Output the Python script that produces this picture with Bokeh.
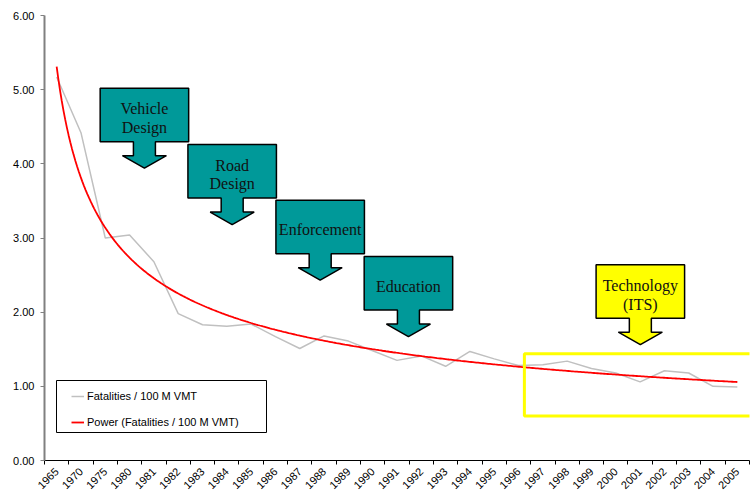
import numpy as np
from bokeh.plotting import figure
from bokeh.models import (Range1d, FixedTicker, NumeralTickFormatter, Legend,
                          LegendItem, BoxAnnotation, ColumnDataSource)
from bokeh.core.properties import value
from bokeh.embed import file_html
from bokeh.resources import INLINE

# ---- data -------------------------------------------------------------
years = ["1965", "1970", "1975", "1980", "1981", "1982", "1983", "1984",
         "1985", "1986", "1987", "1988", "1989", "1990", "1991", "1992",
         "1993", "1994", "1995", "1996", "1997", "1998", "1999", "2000",
         "2001", "2002", "2003", "2004", "2005"]
fatality_rate = [5.17, 4.42, 3.00, 3.04, 2.68, 1.98, 1.83, 1.81,
                 1.84, 1.67, 1.51, 1.68, 1.61, 1.48, 1.35, 1.41,
                 1.27, 1.47, 1.37, 1.28, 1.29, 1.34, 1.24, 1.18,
                 1.06, 1.21, 1.18, 1.00, 0.99]
y_ticks = [0, 1, 2, 3, 4, 5, 6]

callout_labels = [["Vehicle", "Design"], ["Road", "Design"], ["Enforcement"],
                  ["Education"], ["Technology", "(ITS)"]]
callout_center = [3.61, 7.22, 10.84, 14.47, 24.01]   # category position
callout_top = [5.02, 4.26, 3.51, 2.75, 2.64]         # value axis
callout_fill = ["#009999", "#009999", "#009999", "#009999", "#FFFF00"]

# ---- layout -----------------------------------------------------------
W, H = 753, 498
LEFT, RIGHT, TOP, BOTTOM = 44, 4, 15, 38
n = len(years)
frame_w = W - LEFT - RIGHT
frame_h = H - TOP - BOTTOM
PX_X = n / frame_w          # data units per pixel, horizontal
PX_Y = 6.0 / frame_h        # data units per pixel, vertical

p = figure(width=W, height=H, output_backend="svg", toolbar_location=None,
           x_range=Range1d(-0.5, n - 0.5), y_range=Range1d(0, 6),
           min_border_left=LEFT, min_border_right=RIGHT,
           min_border_top=TOP, min_border_bottom=BOTTOM)
p.outline_line_color = None
p.xgrid.visible = False
p.ygrid.visible = False
p.background_fill_color = "white"
p.border_fill_color = "white"

idx = np.arange(n)
src = ColumnDataSource(dict(x=idx, y=fatality_rate))
r_data = p.line("x", "y", source=src, line_color="#C0C0C0", line_width=1.5)

# power trendline fitted to the series (y = a * x^b, x = 1..n)
b, ln_a = np.polyfit(np.log(idx + 1.0), np.log(fatality_rate), 1)
xs = np.linspace(1, n, 400)
r_fit = p.line(xs - 1, np.exp(ln_a) * xs ** b, line_color="#FF0000", line_width=1.8)

# ---- axes -------------------------------------------------------------
xa = p.xaxis[0]
xa.ticker = FixedTicker(ticks=list(idx), minor_ticks=[i - 0.5 for i in range(n + 1)])
xa.major_label_overrides = {int(i): years[i] for i in idx}
xa.major_label_orientation = np.pi / 4
xa.major_tick_line_color = None
xa.minor_tick_line_color = "black"
xa.minor_tick_out = 4
xa.minor_tick_in = 0
xa.axis_line_color = "black"
xa.major_label_text_font = "Liberation Sans"
xa.major_label_text_font_size = "11px"
xa.major_label_text_color = "black"
xa.major_label_standoff = 3

ya = p.yaxis[0]
ya.ticker = FixedTicker(ticks=y_ticks, minor_ticks=[])
ya.formatter = NumeralTickFormatter(format="0.00")
ya.axis_line_color = "#808080"
ya.axis_line_width = 2
ya.major_tick_line_color = "#808080"
ya.major_tick_out = 4
ya.major_tick_in = 0
ya.minor_tick_line_color = None
ya.major_label_text_font = "Liberation Sans"
ya.major_label_text_font_size = "11px"
ya.major_label_text_color = "black"
ya.major_label_standoff = 6

# ---- highlighted ITS period --------------------------------------------
p.add_layout(BoxAnnotation(left=19.24, right=n + 1, bottom=0.60, top=1.44,
                           fill_alpha=0, line_color="#FFFF00", line_alpha=1,
                           line_width=3))

# ---- down-arrow callouts ----------------------------------------------
box_w, box_h = 88.5 * PX_X, 53.5 * PX_Y
stem_hw, stem_h = 11 * PX_X, 14 * PX_Y
head_hw, head_h = 22 * PX_X, 12.5 * PX_Y
shape_xs, shape_ys = [], []
tx, ty, tt = [], [], []
for lines, cx, top in zip(callout_labels, callout_center, callout_top):
    l, r = cx - box_w / 2, cx + box_w / 2
    bot = top - box_h
    hy = bot - stem_h
    tip = hy - head_h
    shape_xs.append([l, r, r, cx + stem_hw, cx + stem_hw, cx + head_hw, cx,
                     cx - head_hw, cx - stem_hw, cx - stem_hw, l])
    shape_ys.append([top, top, bot, bot, hy, hy, tip, hy, hy, bot, bot])
    offsets = [20.5, 39.3] if len(lines) == 2 else [29.5]
    for txt, off in zip(lines, offsets):
        tx.append(cx)
        ty.append(top - off * PX_Y)
        tt.append(txt)

p.patches(shape_xs, shape_ys, fill_color=callout_fill, line_color="black",
          line_width=1.5)
p.text(tx, ty, text=tt, text_align="center", text_baseline="middle",
       text_font=value("Liberation Serif"), text_font_size="16px",
       text_color="#111111")

# ---- legend -------------------------------------------------------------
p.add_layout(BoxAnnotation(left=(56 - LEFT) * PX_X - 0.5, right=(266 - LEFT) * PX_X - 0.5,
                           bottom=28 * PX_Y, top=80 * PX_Y,
                           fill_color="white", fill_alpha=1,
                           line_color="black", line_alpha=1, line_width=1))
legend = Legend(items=[LegendItem(label="Fatalities / 100 M VMT", renderers=[r_data]),
                       LegendItem(label="Power (Fatalities / 100 M VMT)", renderers=[r_fit])],
                location=(27, 28), padding=3, spacing=6, margin=0,
                glyph_width=13, glyph_height=20, label_height=20,
                label_standoff=3, label_text_font="Liberation Sans",
                label_text_font_size="11px", label_text_color="black",
                border_line_color=None, background_fill_alpha=0)
p.add_layout(legend, "center")

open("out.html", "w").write(file_html(p, INLINE))
